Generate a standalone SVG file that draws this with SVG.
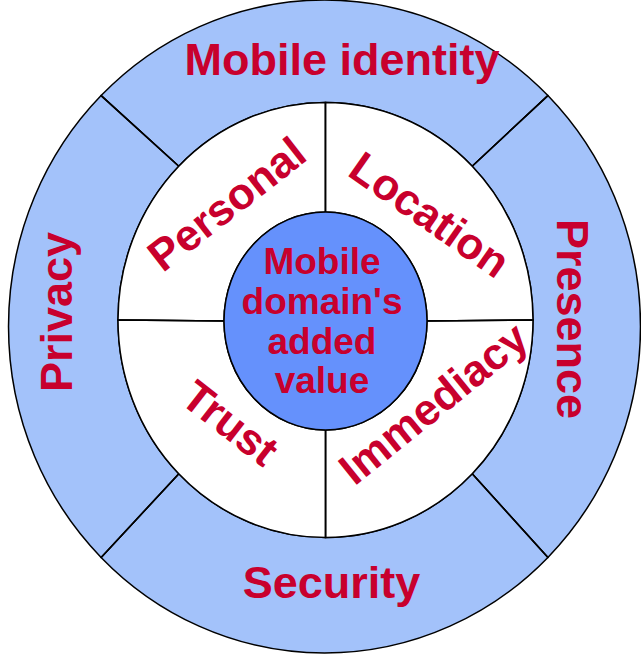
<svg xmlns="http://www.w3.org/2000/svg" width="641" height="660" viewBox="0 0 641 660">
  <style>
    .ring { fill: #A3C2FA; stroke: #000; stroke-width: 1.5; }
    .quad { fill: #FFFFFF; stroke: #000; stroke-width: 1.5; }
    .core { fill: #6591FC; stroke: #000; stroke-width: 1.5; }
    .div { stroke: #000; stroke-width: 1.5; fill: none; }
    .lbl { font-family: "Liberation Sans", Arial, sans-serif; font-weight: bold; fill: #C8002D; text-anchor: middle; }
    .outer { font-size: 45px; }
    .inner { font-size: 44px; }
    .center { font-size: 37px; }
  </style>
  <rect width="641" height="660" fill="#FFFFFF"/>

  <!-- outer ring: four sectors -->
  <g id="mobile-identity">
    <path class="ring" d="M101.1,95.6 A316,326.5 0 0 1 547.9,95.6 L472.2,166.2 A207.5,217.5 0 0 0 178.8,166.2 Z"/>
    <text class="lbl outer" x="342" y="75">Mobile identity</text>
  </g>
  <g id="presence">
    <path class="ring" d="M547.9,95.6 A316,326.5 0 0 1 547.9,557.4 L472.2,473.8 A207.5,217.5 0 0 0 472.2,166.2 Z"/>
    <text class="lbl outer" transform="translate(557,319) rotate(90)">Presence</text>
  </g>
  <g id="security">
    <path class="ring" d="M547.9,557.4 A316,326.5 0 0 1 101.1,557.4 L178.8,473.8 A207.5,217.5 0 0 0 472.2,473.8 Z"/>
    <text class="lbl outer" x="331.5" y="598">Security</text>
  </g>
  <g id="privacy">
    <path class="ring" d="M101.1,557.4 A316,326.5 0 0 1 101.1,95.6 L178.8,166.2 A207.5,217.5 0 0 0 178.8,473.8 Z"/>
    <text class="lbl outer" transform="translate(72,312) rotate(-90)">Privacy</text>
  </g>

  <!-- inner ring: four quadrants -->
  <g id="personal">
    <path class="quad" d="M118,320 A207.5,217.5 0 0 1 325.5,102.5 L325.5,212 A101.5,109 0 0 0 224,321 Z"/>
    <text class="lbl inner" transform="translate(236,216) rotate(-38)">Personal</text>
  </g>
  <g id="location">
    <path class="quad" d="M325.5,102.5 A207.5,217.5 0 0 1 533,320 L427,321 A101.5,109 0 0 0 325.5,212 Z"/>
    <text class="lbl inner" transform="translate(421,227) rotate(35)">Location</text>
  </g>
  <g id="immediacy">
    <path class="quad" d="M533,320 A207.5,217.5 0 0 1 325.5,537.5 L325.5,430 A101.5,109 0 0 0 427,321 Z"/>
    <text class="lbl inner" transform="translate(443,415) rotate(-39)">Immediacy</text>
  </g>
  <g id="trust">
    <path class="quad" d="M325.5,537.5 A207.5,217.5 0 0 1 118,320 L224,321 A101.5,109 0 0 0 325.5,430 Z"/>
    <text class="lbl inner" transform="translate(221,435) rotate(38)">Trust</text>
  </g>

  <!-- core -->
  <g id="added-value">
    <ellipse class="core" cx="325.5" cy="321" rx="101.5" ry="109"/>
    <text class="lbl center" x="322" y="274">Mobile</text>
    <text class="lbl center" x="322" y="314">domain's</text>
    <text class="lbl center" x="322" y="353.5">added</text>
    <text class="lbl center" x="322" y="393">value</text>
  </g>

  <!-- divider lines between sectors -->
  <g id="connectors">
    <line class="div" x1="101.1" y1="95.6" x2="178.8" y2="166.2"/>
    <line class="div" x1="547.9" y1="95.6" x2="472.2" y2="166.2"/>
    <line class="div" x1="101.1" y1="557.4" x2="178.8" y2="473.8"/>
    <line class="div" x1="547.9" y1="557.4" x2="472.2" y2="473.8"/>
    <line class="div" x1="325.5" y1="102.5" x2="325.5" y2="212"/>
    <line class="div" x1="325.5" y1="430" x2="325.5" y2="537.5"/>
    <line class="div" x1="118" y1="320" x2="224" y2="321"/>
    <line class="div" x1="427" y1="321" x2="533" y2="320"/>
  </g>
</svg>
